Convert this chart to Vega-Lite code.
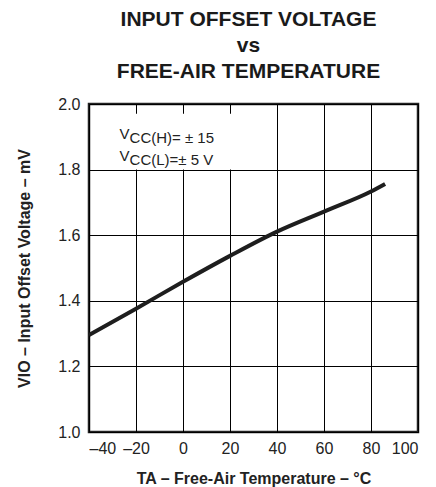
{
  "$schema": "https://vega.github.io/schema/vega-lite/v6.json",
  "width": 329,
  "height": 328,
  "autosize": {"type": "none"},
  "padding": {"left": 89, "top": 104, "right": 18, "bottom": 55},
  "background": "white",
  "title": {
    "text": ["INPUT OFFSET VOLTAGE", "vs", "FREE-AIR TEMPERATURE"],
    "fontSize": 21,
    "font": "Liberation Sans",
    "fontWeight": "bold",
    "color": "#1a1a1a",
    "anchor": "middle",
    "frame": "group",
    "lineHeight": 26,
    "offset": 14,
    "dx": -5
  },
  "config": {
    "view": {"stroke": "#222", "strokeWidth": 2.5},
    "font": "Liberation Sans"
  },
  "datasets": {
    "curve": [
      {"temp": -40, "vio": 1.296},
      {"temp": -20, "vio": 1.376},
      {"temp": 0, "vio": 1.458},
      {"temp": 20, "vio": 1.537},
      {"temp": 40, "vio": 1.611},
      {"temp": 60, "vio": 1.672},
      {"temp": 80, "vio": 1.733},
      {"temp": 86, "vio": 1.756}
    ],
    "box": [
      {"x1": -35, "x2": 30, "y1": 1.8, "y2": 1.97}
    ],
    "note": [
      {"x": -27, "y": 1.893, "v": "V", "s": "CC(H)= ± 15"},
      {"x": -27, "y": 1.826, "v": "V", "s": "CC(L)=± 5 V"}
    ]
  },
  "layer": [
    {
      "data": {"name": "curve"},
      "mark": {"type": "line", "color": "#1e1e1e", "strokeWidth": 4, "interpolate": "monotone"},
      "encoding": {
        "x": {
          "field": "temp",
          "type": "quantitative",
          "scale": {"domain": [-40, 100], "nice": false},
          "axis": {
            "values": [-40, -20, 0, 20, 40, 60, 80, 100],
            "grid": true,
            "gridColor": "#000",
            "gridOpacity": 1,
            "gridWidth": 1,
            "domain": false,
            "ticks": false,
            "tickSize": 0,
            "labelFontSize": 16,
            "labelColor": "#222",
            "labelPadding": 8,
            "labelFont": "Liberation Sans",
            "labelExpr": "datum.value < 0 ? '–' + abs(datum.value) : '' + datum.value",
            "title": "TA – Free-Air Temperature – °C",
            "titleFont": "Liberation Sans",
            "titleFontSize": 16,
            "titleFontWeight": "bold",
            "titleColor": "#222",
            "titlePadding": 14
          }
        },
        "y": {
          "field": "vio",
          "type": "quantitative",
          "scale": {"domain": [1, 2], "nice": false, "zero": false},
          "axis": {
            "values": [1, 1.2, 1.4, 1.6, 1.8, 2],
            "format": ".1f",
            "grid": true,
            "gridColor": "#000",
            "gridOpacity": 1,
            "gridWidth": 1,
            "domain": false,
            "ticks": false,
            "tickSize": 0,
            "labelFontSize": 16,
            "labelColor": "#222",
            "labelPadding": 9,
            "labelFont": "Liberation Sans",
            "title": "VIO – Input Offset Voltage – mV",
            "titleFont": "Liberation Sans",
            "titleFontSize": 16,
            "titleFontWeight": "bold",
            "titleColor": "#222",
            "titlePadding": 25
          }
        }
      }
    },
    {
      "data": {"name": "box"},
      "mark": {"type": "rect", "fill": "white"},
      "encoding": {
        "x": {"field": "x1", "type": "quantitative"},
        "x2": {"field": "x2"},
        "y": {"field": "y1", "type": "quantitative"},
        "y2": {"field": "y2"}
      }
    },
    {
      "data": {"name": "note"},
      "mark": {"type": "text", "align": "left", "baseline": "alphabetic", "fontSize": 15, "color": "#222", "font": "Liberation Sans"},
      "encoding": {
        "x": {"field": "x", "type": "quantitative"},
        "y": {"field": "y", "type": "quantitative"},
        "text": {"field": "v"}
      }
    },
    {
      "data": {"name": "note"},
      "mark": {"type": "text", "align": "left", "baseline": "alphabetic", "fontSize": 15, "color": "#222", "font": "Liberation Sans", "dx": 10, "dy": 4},
      "encoding": {
        "x": {"field": "x", "type": "quantitative"},
        "y": {"field": "y", "type": "quantitative"},
        "text": {"field": "s"}
      }
    }
  ]
}
